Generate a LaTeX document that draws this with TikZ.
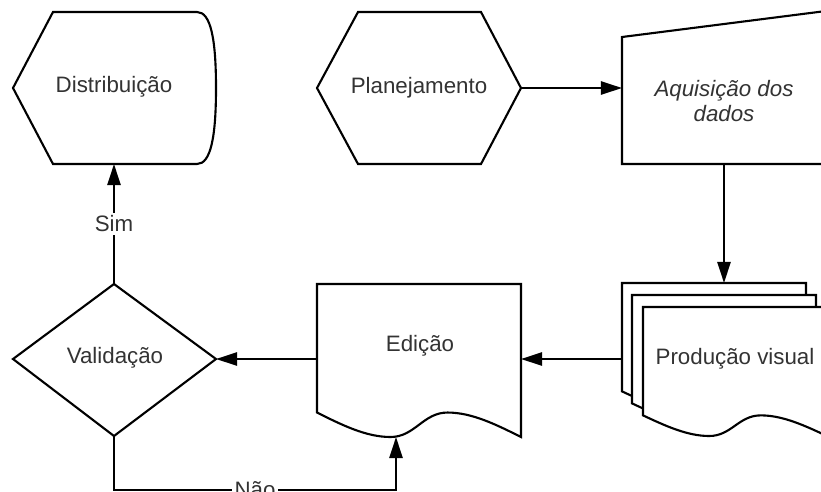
\documentclass[tikz,border=0pt]{standalone}
\usepackage{fontspec}
\setmainfont{Liberation Sans}
\usepackage{xcolor}
\usetikzlibrary{calc}
\usetikzlibrary{arrows.meta}
\definecolor{txtgray}{HTML}{333333}

\begin{document}
\begin{tikzpicture}[x=0.02cm,y=-0.02cm,line width=1.2pt,line join=miter,
  shp/.style={draw,fill=white},
  lbl/.style={text=txtgray,font=\fontsize{12.7}{14.5}\selectfont,align=center},
  ilbl/.style={lbl,font=\fontsize{12.7}{14.5}\selectfont\itshape},
  edge lbl/.style={lbl,fill=white,inner sep=1.5pt},
  arr/.style={-{Triangle[length=12pt,width=7.5pt]}}]
\useasboundingbox (0,0) rectangle (821,491);
\clip (0,0) rectangle (821,491);
\def\doc#1#2#3#4{%
  \draw[shp] (#1,#2) -- ({#1+#3},#2) -- ({#1+#3},{#2+#4})
    .. controls ({#1+0.88*#3},{#2+0.92*#4}) and ({#1+0.76*#3},{#2+0.84*#4}) .. ({#1+0.64*#3},{#2+0.84*#4})
    .. controls ({#1+0.52*#3},{#2+0.84*#4}) and ({#1+0.48*#3},{#2+#4}) .. ({#1+0.36*#3},{#2+#4})
    .. controls ({#1+0.24*#3},{#2+#4}) and ({#1+0.12*#3},{#2+0.92*#4}) .. (#1,{#2+0.84*#4}) -- cycle;}

\coordinate (plan-e) at (521,88);
\coordinate (aqui-w) at (622,88);
\coordinate (aqui-s) at (724,164);
\coordinate (prod-n) at (724,283);
\coordinate (prod-w) at (622,359);
\coordinate (edic-e) at (521,359);
\coordinate (edic-w) at (317,359);
\coordinate (edic-s) at (396,437);
\coordinate (vali-e) at (216,359);
\coordinate (vali-n) at (114,284);
\coordinate (vali-s) at (114,436);
\coordinate (dist-s) at (114,164);
\coordinate (nao1) at (114,490);
\coordinate (nao2) at (396,490);

\draw[shp] (13,88) -- (53,12) -- (197,12) .. controls (211,12) and (216,40) .. (216,88)
  .. controls (216,136) and (211,164) .. (197,164) -- (53,164) -- cycle;
\draw[shp] (317,88) -- (358,12) -- (481,12) -- (521,88) -- (481,164) -- (358,164) -- cycle;
\draw[shp] (622,37) -- (826,11) -- (826,164) -- (622,164) -- cycle;
\doc{622}{283}{184}{129}
\doc{632}{295}{184}{129}
\doc{643}{307}{184}{129}
\doc{317}{284}{204}{153}
\draw[shp] (13,359) -- (vali-n) -- (vali-e) -- (vali-s) -- cycle;

\node[lbl] (dist) at (114,87) {Distribuição};
\node[lbl] (plan) at (419,88) {Planejamento};
\node[ilbl] (aqui) at (724,101) {Aquisição dos\\dados};
\node[lbl] (prod) at (735,359) {Produção visual};
\node[lbl] (edic) at (420,346) {Edição};
\node[lbl] (vali) at (115,358) {Validação};

\draw[arr] (plan-e) -- (aqui-w);
\draw[arr] (aqui-s) -- (prod-n);
\draw[arr] (prod-w) -- (edic-e);
\draw[arr] (edic-w) -- (vali-e);
\draw[arr] (vali-n) -- node[edge lbl] (sim) {Sim} (dist-s);
\draw[arr] (vali-s) -- (nao1) -- node[edge lbl] (nao) {Não} (nao2) -- (edic-s);

\end{tikzpicture}
\end{document}
